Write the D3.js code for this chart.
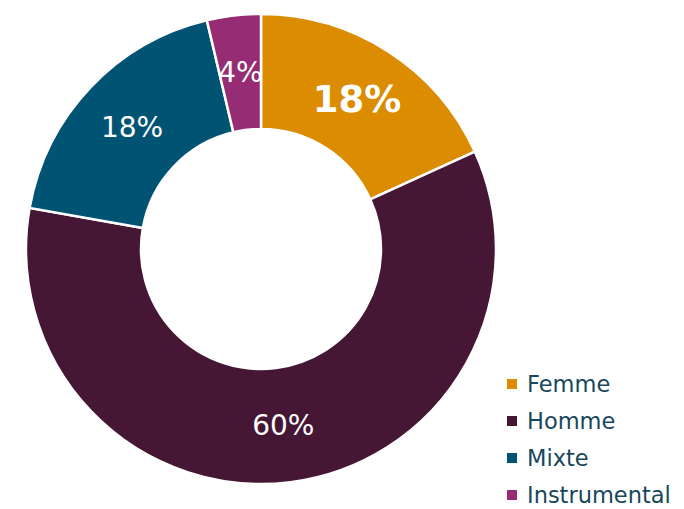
<!DOCTYPE html>
<html lang="fr">
<head>
<meta charset="utf-8">
<title>Répartition</title>
<script src="https://d3js.org/d3.v7.min.js"></script>
<style>
  body { margin: 0; background: #fff; }
  svg { display: block; }
</style>
</head>
<body>
<script>
// data
const categories = ["Femme", "Homme", "Mixte", "Instrumental"];
const values = [18.2, 59.6, 18.5, 3.7];
const labels = ["18%", "60%", "18%", "4%"];
const colors = ["#DB8C00", "#461734", "#005373", "#962C73"];

const width = 684, height = 509;
const cx = 261, cy = 249;
const outerR = 235, innerR = 120;

const svg = d3.select("body").append("svg")
  .attr("width", width)
  .attr("height", height);

const data = categories.map((c, i) => ({ name: c, value: values[i], label: labels[i], color: colors[i] }));

const pie = d3.pie().value(d => d.value).sort(null);
const arc = d3.arc().innerRadius(innerR).outerRadius(outerR);

const g = svg.append("g").attr("transform", `translate(${cx},${cy})`);

const arcs = pie(data);

g.selectAll("path")
  .data(arcs)
  .enter()
  .append("path")
  .attr("d", arc)
  .attr("fill", d => d.data.color)
  .attr("stroke", "#fff")
  .attr("stroke-width", 2.5);

// labels
g.selectAll("text.lbl")
  .data(arcs)
  .enter()
  .append("text")
  .attr("class", "lbl")
  .attr("x", d => arc.centroid(d)[0])
  .attr("y", d => arc.centroid(d)[1])
  .attr("text-anchor", "middle")
  .attr("dominant-baseline", "central")
  .attr("fill", "#fff")
  .style("font-family", "'Century Gothic', 'DejaVu Sans', sans-serif")
  .style("font-size", (d, i) => i === 0 ? "37px" : "28px")
  .style("font-weight", (d, i) => i === 0 ? "bold" : "normal")
  .text(d => d.data.label);

// legend
const legend = svg.append("g").attr("transform", "translate(507,384)");
const row = legend.selectAll("g")
  .data(data)
  .enter()
  .append("g")
  .attr("transform", (d, i) => `translate(0,${i * 37})`);

row.append("rect")
  .attr("x", 0).attr("y", -5)
  .attr("width", 10).attr("height", 10)
  .attr("fill", d => d.color);

row.append("text")
  .attr("x", 20)
  .attr("y", 0)
  .attr("dominant-baseline", "central")
  .attr("fill", "#17475C")
  .style("font-family", "'Century Gothic', 'DejaVu Sans', sans-serif")
  .style("font-size", "22.5px")
  .text(d => d.name);
</script>
</body>
</html>
